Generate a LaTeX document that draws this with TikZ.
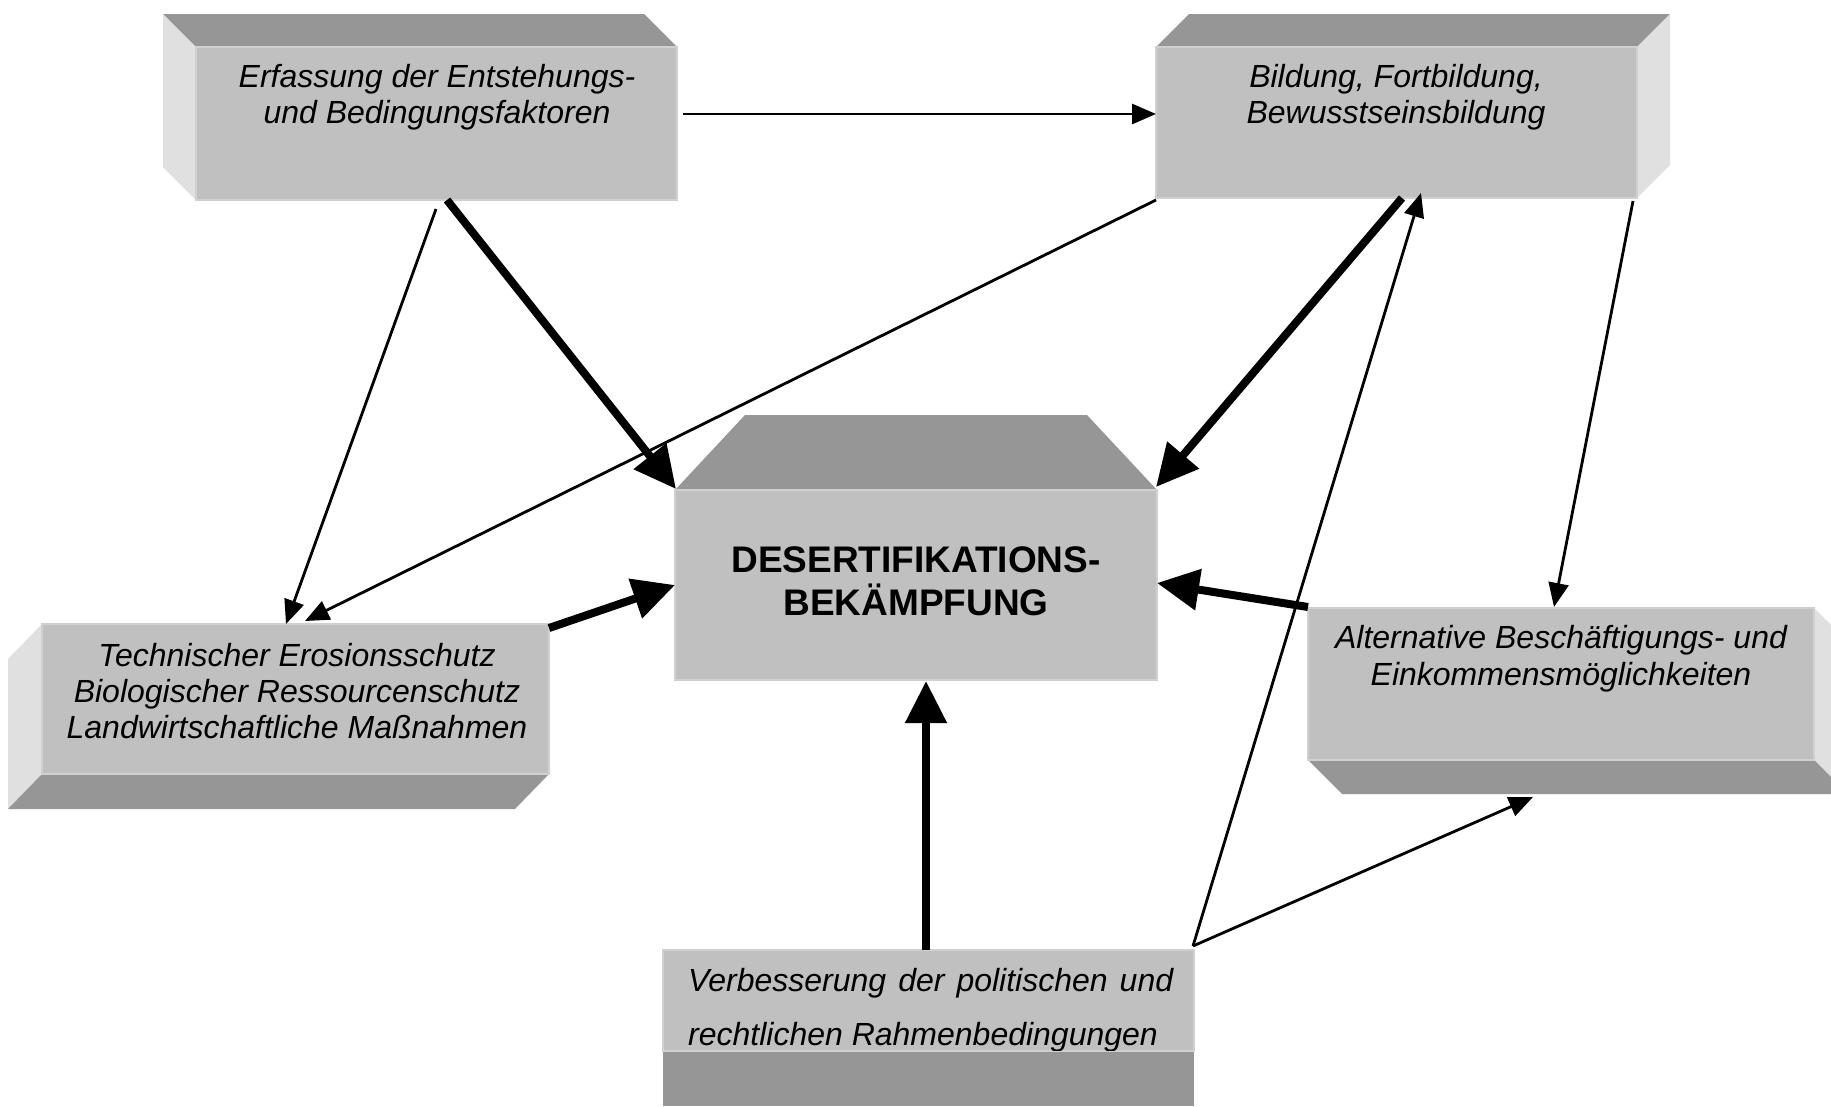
\documentclass[tikz,border=0pt]{standalone}
\usepackage{fontspec}
\setmainfont{Liberation Sans}
\usetikzlibrary{arrows.meta}
\definecolor{frontc}{HTML}{C0C0C0}
\definecolor{darkc}{HTML}{969696}
\definecolor{lightc}{HTML}{E0E0E0}
\definecolor{edgec}{HTML}{D0D0D0}
\begin{document}
\begin{tikzpicture}[x=1pt,y=-1pt,
  front/.style={rectangle, fill=frontc, draw=edgec, line width=1.5pt, inner sep=0pt, outer sep=0pt},
  darkface/.style={fill=darkc},
  lightface/.style={fill=lightc},
  ln/.style={anchor=base, inner sep=0pt, font=\fontsize{32}{36}\selectfont\itshape},
  bln/.style={anchor=base, inner sep=0pt, font=\fontsize{37}{43}\selectfont\bfseries},
  thinarrow/.style={line width=2.8pt, -{Triangle[length=24pt,width=20pt]}},
  thickarrow/.style={line width=8pt, -{Triangle[length=42pt,width=40pt]}},
  thickline/.style={line width=8pt}
]
\useasboundingbox (0,0) rectangle (1831,1106);
\fill[white] (0,0) rectangle (1831,1106);
\clip (0,0) rectangle (1831,1106);

% ---- 3D faces ----
% box 1
\fill[darkface] (196,47) -- (163,14) -- (644,14) -- (677,47) -- cycle;
\fill[lightface] (196,47) -- (163,14) -- (163,167) -- (196,200) -- cycle;
% box 2
\fill[darkface] (1156,47) -- (1189,14) -- (1670,14) -- (1637,47) -- cycle;
\fill[lightface] (1637,47) -- (1670,14) -- (1670,165) -- (1637,198) -- cycle;
% box 3
\fill[darkface] (675,490) -- (745,415) -- (1087,415) -- (1157,490) -- cycle;
% box 4
\fill[lightface] (42,624) -- (8,659) -- (8,809) -- (42,774) -- cycle;
\fill[darkface] (42,774) -- (549,774) -- (515,809) -- (8,809) -- cycle;
% box 5
\fill[lightface] (1814,608) -- (1848,642) -- (1848,794) -- (1814,760) -- cycle;
\fill[darkface] (1308,760) -- (1814,760) -- (1848,794) -- (1342,794) -- cycle;
% box 6
\fill[darkface] (663,1051) rectangle (1194,1106);

% ---- front faces ----
\node[front, minimum width=481pt, minimum height=153pt] (b1) at (436.5,123.5) {};
\node[front, minimum width=481pt, minimum height=151pt] (b2) at (1396.5,122.5) {};
\node[front, minimum width=482pt, minimum height=190pt] (b3) at (916,585) {};
\node[front, minimum width=507pt, minimum height=150pt] (b4) at (295.5,699) {};
\node[front, minimum width=506pt, minimum height=152pt] (b5) at (1561,684) {};
\node[front, minimum width=531pt, minimum height=101pt] (b6) at (928.5,1000.5) {};

% ---- texts ----
\node[ln] (t1a) at (437,87) {Erfassung der Entstehungs-};
\node[ln] (t1b) at (437,123.5) {und Bedingungsfaktoren};
\node[ln] (t2a) at (1396,87) {Bildung, Fortbildung,};
\node[ln] (t2b) at (1396,123.5) {Bewusstseinsbildung};
\node[bln] (t3a) at (916,572) {DESERTIFIKATIONS-};
\node[bln] (t3b) at (916,615) {BEKÄMPFUNG};
\node[ln] (t4a) at (297,666) {Technischer Erosionsschutz};
\node[ln] (t4b) at (297,702) {Biologischer Ressourcenschutz};
\node[ln] (t4c) at (297,738) {Landwirtschaftliche Maßnahmen};
\node[ln] (t5a) at (1561,648) {Alternative Beschäftigungs- und};
\node[ln] (t5b) at (1561,685) {Einkommensmöglichkeiten};
\begin{scope}
  \clip (b6.north west) rectangle ([yshift=1pt]b6.south east);
  \node[ln, anchor=base west] (t6a) at (688,991) {\makebox[485pt][s]{Verbesserung der politischen und}};
  \node[ln, anchor=base west] (t6b) at (688,1045) {rechtlichen Rahmenbedingungen};
\end{scope}

% ---- connectors ----
\draw[thinarrow] ([shift={(6,-9.5)}]b1.east) -- ([shift={(0,-8.5)}]b2.west);
\draw[thickarrow] ([shift={(10.5,0)}]b1.south) -- ([shift={(1,-1)}]b3.north west);
\draw[thinarrow] ([shift={(-0.5,9)}]b1.south) -- ([shift={(-9.5,0)}]b4.north);
\draw[thinarrow] ([shift={(0,2)}]b2.south west) -- ([shift={(9.5,-3)}]b4.north);
\draw[thickarrow] ([shift={(5.5,0)}]b2.south) -- ([shift={(-1,-3)}]b3.north east);
\draw[thinarrow] ([shift={(-4,3)}]b2.south east) -- ([shift={(-7,-1)}]b5.north);
\draw[thickarrow] ([shift={(0,4)}]b4.north east) -- (b3.west);
\draw[thickarrow] ([shift={(0,-1)}]b5.north west) -- ([shift={(0,-2)}]b3.east);
\draw[thickarrow] ([shift={(-2.5,0)}]b6.north) -- ([shift={(10,1)}]b3.south);
\draw[thinarrow] ([shift={(-1,-4)}]b6.north east) -- ([shift={(24.5,-5)}]b2.south);
\draw[thinarrow] ([shift={(-1,-4)}]b6.north east) -- ([shift={(-28,37)}]b5.south);
\end{tikzpicture}
\end{document}
